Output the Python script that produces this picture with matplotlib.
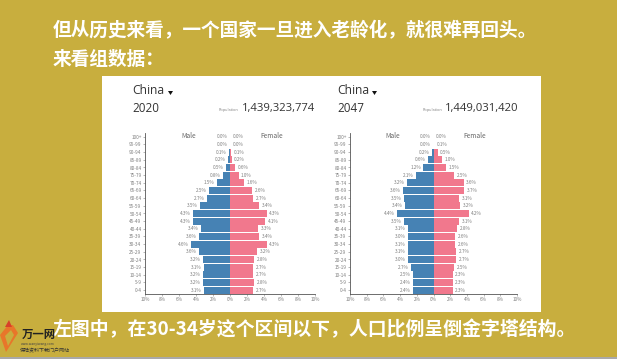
import matplotlib
matplotlib.use('Agg')
import matplotlib.pyplot as plt
from matplotlib.patches import Rectangle, Polygon

plt.rcParams['font.family'] = ['Noto Sans CJK SC', 'DejaVu Sans']

ages = ['100+','95-99','90-94','85-89','80-84','75-79','70-74','65-69','60-64','55-59','50-54',
        '45-49','40-44','35-39','30-34','25-29','20-24','15-19','10-14','5-9','0-4']
male_2020 = [0.0,0.0,0.1,0.2,0.5,0.8,1.5,2.5,2.7,3.5,4.3,4.3,3.4,3.6,4.6,3.6,3.2,3.1,3.2,3.2,3.1]
female_2020 = [0.0,0.0,0.1,0.2,0.6,1.0,1.6,2.6,2.7,3.4,4.3,4.1,3.3,3.4,4.3,3.2,2.8,2.7,2.7,2.8,2.7]
male_2047 = [0.0,0.0,0.2,0.6,1.2,2.1,3.2,3.6,3.5,3.4,4.4,3.5,3.1,3.0,3.1,3.1,3.0,2.7,2.5,2.4,2.4]
female_2047 = [0.0,0.1,0.5,1.0,1.5,2.5,3.6,3.7,3.1,3.2,4.2,3.1,2.8,2.6,2.6,2.7,2.7,2.5,2.3,2.3,2.3]
ticks = [-10,-8,-6,-4,-2,0,2,4,6,8,10]
tick_labels = ['10%','8%','6%','4%','2%','0%','2%','4%','6%','8%','10%']

W, H = 617, 359
BG = '#C8AE3E'
fig = plt.figure(figsize=(W/100, H/100), dpi=100, facecolor=BG)

def fx(x): return x/W
def fy(y): return 1-y/H

bgax = fig.add_axes([0,0,1,1]); bgax.set_xlim(0,W); bgax.set_ylim(H,0); bgax.axis('off')
bgax.add_patch(Rectangle((102,76),439,236,fc='white',ec='none'))
bgax.add_patch(Rectangle((0,357),W,2,fc='#A9A9A9',ec='none'))

DARK = '#333333'
GREY = '#808080'

def panel(x10, x1, male, female, year, pop, hx, tri, poplabel, popx):
    top, bot = 133, 294
    ax = fig.add_axes([fx(x10), fy(bot), (x1-x10)/W, (bot-top)/H])
    ax.patch.set_alpha(0)
    y = list(range(len(ages)))[::-1]
    ax.barh(y, [-v for v in male], height=0.92, color='#4682B4')
    ax.barh(y, female, height=0.92, color='#F1788D')
    ax.set_xlim(-10,10); ax.set_ylim(-0.5,20.5)
    for s in ['top','right']: ax.spines[s].set_visible(False)
    for s in ['left','bottom']:
        ax.spines[s].set_linewidth(0.6); ax.spines[s].set_color('#555555')
    ax.set_yticks(y); ax.set_yticklabels(ages)
    ax.set_xticks(ticks); ax.set_xticklabels(tick_labels)
    ax.tick_params(labelsize=3.4, length=1.5, width=0.4, pad=1, colors=GREY)
    for yi, m, f in zip(y, male, female):
        ax.text(-m-0.3, yi, f'{m:.1f}%', ha='right', va='center', fontsize=3.4, color=GREY)
        ax.text(f+0.3, yi, f'{f:.1f}%', ha='left', va='center', fontsize=3.4, color=GREY)
    ax.text(-4.9, 20.1, 'Male', ha='center', va='center', fontsize=4.8, color='#666666')
    ax.text(4.9, 20.1, 'Female', ha='center', va='center', fontsize=4.8, color='#666666')
    fig.text(fx(hx), fy(91), 'China', fontsize=8.7, color=DARK, va='center', family='Open Sans')
    bgax.add_patch(Polygon([(tri,91),(tri+5,91),(tri+2.5,95)],fc='#111111',ec='none'))
    fig.text(fx(hx), fy(108), year, fontsize=8.4, color=DARK, va='center', family='Open Sans')
    fig.text(fx(poplabel), fy(110), 'Population', fontsize=2.8, color=GREY, va='center', family='Open Sans')
    fig.text(fx(popx), fy(108), pop, fontsize=8.1, color=DARK, va='center', family='Open Sans')

panel(145,315,male_2020,female_2020,'2020','1,439,323,774',132,168,219,242)
panel(350,517,male_2047,female_2047,'2047','1,449,031,420',337,372,423,445)

WT = dict(color='white', fontweight='bold', va='center')
fig.text(fx(53), fy(31), '但从历史来看，一个国家一旦进入老龄化，就很难再回头。', fontsize=13.45, **WT)
fig.text(fx(53), fy(59), '来看组数据：', fontsize=13.45, **WT)
fig.text(fx(53), fy(329), '左图中，在30-34岁这个区间以下，人口比例呈倒金字塔结构。', fontsize=13.6, **WT)

# logo
bgax.add_patch(Polygon([(8,325),(0,335),(6,352),(18,333),(13,325)],fc='#E8762A',ec='none'))
bgax.add_patch(Polygon([(11,330),(5,336),(8,346),(14,335)],fc='#C8AE3E',ec='none'))
bgax.add_patch(Polygon([(9,320),(12,327),(5,327)],fc='#D8412A',ec='none'))
fig.text(fx(22), fy(334), '万一网', fontsize=8.2, color='#222222', fontweight='bold', va='center')
fig.text(fx(21), fy(344), 'www.wanyiwang.com', fontsize=2.4, color='#444444', va='center')
fig.text(fx(20), fy(351), '保险资料下载门户网站', fontsize=3.6, color='#333333', va='center')

fig.savefig('out.png', dpi=100, facecolor=BG)
